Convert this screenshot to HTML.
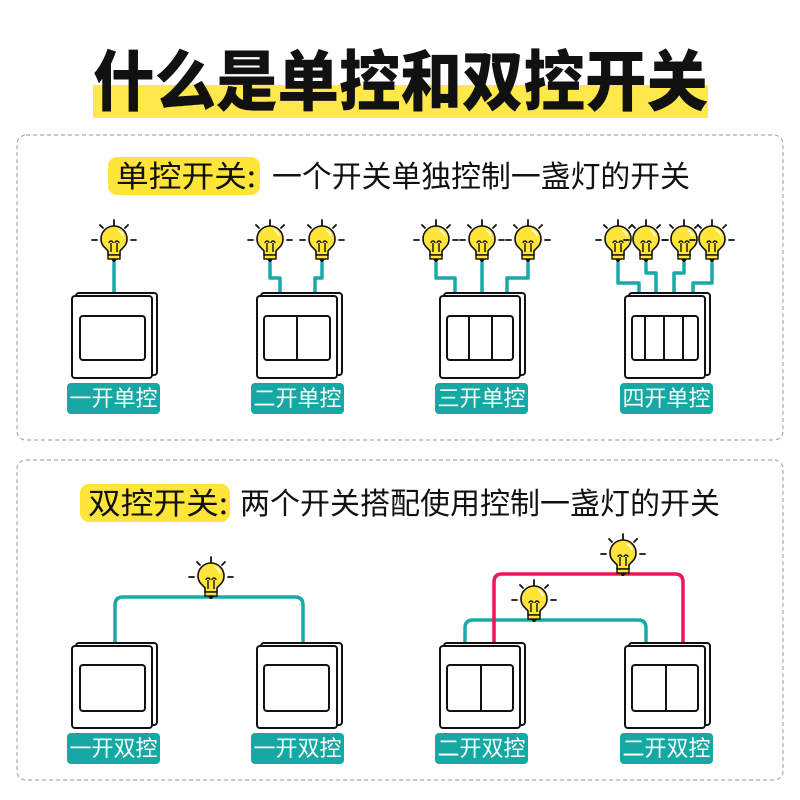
<!DOCTYPE html>
<html><head><meta charset="utf-8"><style>html,body{margin:0;padding:0;background:#fff}svg{display:block}</style></head>
<body>
<svg width="800" height="800" viewBox="0 0 800 800" xmlns="http://www.w3.org/2000/svg">
<defs>
<symbol id="b" overflow="visible">
 <g stroke="#111" stroke-width="1.8" stroke-linecap="round">
  <line x1="0" y1="-42" x2="0" y2="-37"/>
  <line x1="-14" y1="-37" x2="-11" y2="-34"/>
  <line x1="14" y1="-37" x2="11" y2="-34"/>
  <line x1="-22" y1="-22" x2="-17" y2="-22"/>
  <line x1="17" y1="-22" x2="22" y2="-22"/>
 </g>
 <path d="M-6,-7 L-6,-11 C-8,-14 -13,-16 -13,-23 A13,13 0 1 1 13,-23 C13,-16 8,-14 6,-11 L6,-7 Z" fill="#ffe43a" stroke="#111" stroke-width="1.6"/>
 <rect x="-6" y="-7" width="12" height="4" fill="#ffe43a" stroke="#111" stroke-width="1.4"/>
 <path d="M-3,-3 L3,-3 L1,0 L-1,0Z" fill="#111"/>
 <path d="M-3,-10 L-3,-19 M3,-10 L3,-19 M-5,-19 a2,2 0 1 1 4,0 M1,-19 a2,2 0 1 1 4,0" stroke="#111" stroke-width="1.4" fill="none"/>
 <path d="M4,-32 A9,9 0 0 1 9,-26" stroke="#fff" stroke-width="1.6" fill="none"/>
</symbol>
<symbol id="sw" overflow="visible">
 <rect x="4" y="-3" width="81" height="82" rx="3" fill="#fff" stroke="#111" stroke-width="2"/>
 <rect x="0" y="0" width="80" height="82" rx="3" fill="#fff" stroke="#111" stroke-width="2"/>
</symbol>
</defs>

<rect x="93" y="85" width="615" height="33" fill="#ffe94a"/>
<text x="93" y="105" font-family="'Noto Sans CJK SC',sans-serif" font-weight="900" font-size="66" textLength="615" lengthAdjust="spacingAndGlyphs" fill="#111">什么是单控和双控开关</text>

<rect x="17" y="135" width="766" height="305" rx="9" fill="none" stroke="#aaa" stroke-width="1.2" stroke-dasharray="4,3"/>
<rect x="17" y="460" width="766" height="320" rx="9" fill="none" stroke="#aaa" stroke-width="1.2" stroke-dasharray="4,3"/>

<rect x="108" y="157" width="152" height="38" rx="9" fill="#ffe43a"/>
<g font-family="'Noto Sans CJK SC',sans-serif" font-size="30" fill="#111">
<text x="116" y="187" textLength="140" lengthAdjust="spacingAndGlyphs">单控开关:</text>
<text x="272" y="187" textLength="418" lengthAdjust="spacingAndGlyphs">一个开关单独控制一盏灯的开关</text>
</g>
<rect x="80" y="484" width="150" height="38" rx="9" fill="#ffe43a"/>
<g font-family="'Noto Sans CJK SC',sans-serif" font-size="30" fill="#111">
<text x="88" y="514" textLength="140" lengthAdjust="spacingAndGlyphs">双控开关:</text>
<text x="240" y="514" textLength="480" lengthAdjust="spacingAndGlyphs">两个开关搭配使用控制一盏灯的开关</text>
</g>

<!-- wires top -->
<g stroke="#17aaa8" stroke-width="3.5" fill="none" stroke-linejoin="round">
 <path d="M114,262 V294"/>
 <path d="M270,262 V278 H280 V294"/><path d="M322,262 V278 H315 V294"/>
 <path d="M436,262 V278 H455 V294"/><path d="M482,262 V294"/><path d="M528,262 V278 H507 V294"/>
 <path d="M618,262 V283 H639 V294"/><path d="M646,262 V273 H656 V294"/><path d="M684,262 V273 H674 V294"/><path d="M712,262 V283 H693 V294"/>
</g>
<use href="#b" x="114" y="262"/>
<use href="#b" x="270" y="262"/><use href="#b" x="322" y="262"/>
<use href="#b" x="436" y="262"/><use href="#b" x="482" y="262"/><use href="#b" x="528" y="262"/>
<use href="#b" x="618" y="262"/><use href="#b" x="646" y="262"/><use href="#b" x="684" y="262"/><use href="#b" x="712" y="262"/>

<!-- wires bottom -->
<g stroke="#17aaa8" stroke-width="3.5" fill="none">
 <path d="M115,645 V605 Q115,597 123,597 H295 Q303,597 303,605 V645"/>
 <path d="M465,645 V628 Q465,620 473,620 H638 Q646,620 646,628 V645"/>
</g>
<path d="M494,645 V582 Q494,574 502,574 H675 Q683,574 683,582 V645" stroke="#f0145a" stroke-width="3.5" fill="none"/>
<use href="#b" x="211" y="599"/>
<use href="#b" x="534" y="622"/>
<use href="#b" x="623" y="576"/>

<!-- switches -->
<g stroke="#111" stroke-width="2" fill="none">
 <use href="#sw" x="72" y="296"/><rect x="80" y="316" width="65" height="44" rx="3"/>
 <use href="#sw" x="257" y="296"/><rect x="264" y="316" width="66" height="44" rx="3"/><line x1="297" y1="316" x2="297" y2="360"/>
 <use href="#sw" x="440" y="296"/><rect x="447" y="316" width="66" height="44" rx="3"/><line x1="469" y1="316" x2="469" y2="360"/><line x1="492" y1="316" x2="492" y2="360"/>
 <use href="#sw" x="625" y="296"/><rect x="632" y="316" width="66" height="44" rx="3"/><line x1="645" y1="316" x2="645" y2="360"/><line x1="664" y1="316" x2="664" y2="360"/><line x1="683" y1="316" x2="683" y2="360"/>
 <use href="#sw" x="72" y="646"/><rect x="80" y="665" width="65" height="46" rx="3"/>
 <use href="#sw" x="257" y="646"/><rect x="264" y="665" width="65" height="46" rx="3"/>
 <use href="#sw" x="440" y="646"/><rect x="447" y="665" width="66" height="46" rx="3"/><line x1="481" y1="665" x2="481" y2="711"/>
 <use href="#sw" x="625" y="646"/><rect x="632" y="665" width="66" height="46" rx="3"/><line x1="666" y1="665" x2="666" y2="711"/>
</g>

<!-- labels -->
<g fill="#16a8a5">
 <rect x="67" y="383" width="93" height="31" rx="4"/><rect x="251" y="383" width="93" height="31" rx="4"/>
 <rect x="435" y="383" width="93" height="31" rx="4"/><rect x="620" y="383" width="93" height="31" rx="4"/>
 <rect x="67" y="733" width="93" height="31" rx="4"/><rect x="251" y="733" width="93" height="31" rx="4"/>
 <rect x="435" y="733" width="93" height="31" rx="4"/><rect x="620" y="733" width="93" height="31" rx="4"/>
</g>
<g font-family="'Noto Sans CJK SC',sans-serif" font-size="22" fill="#fff" text-anchor="middle">
 <text x="113.5" y="406">一开单控</text><text x="297.5" y="406">二开单控</text>
 <text x="481.5" y="406">三开单控</text><text x="666.5" y="406">四开单控</text>
 <text x="113.5" y="756">一开双控</text><text x="297.5" y="756">一开双控</text>
 <text x="481.5" y="756">二开双控</text><text x="666.5" y="756">二开双控</text>
</g>
</svg>
</body></html>
